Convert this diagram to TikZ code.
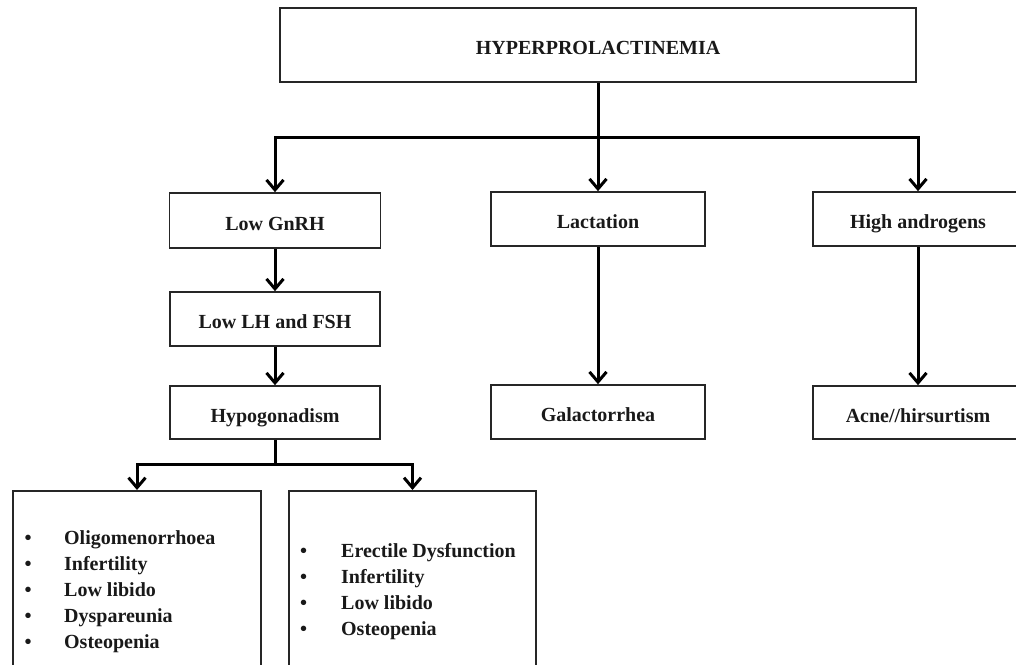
\documentclass[tikz,border=0pt]{standalone}
\usepackage{fontspec}
\setmainfont{Liberation Serif}
\usetikzlibrary{arrows.meta}
\tikzset{
  box/.style={draw=black!85, line width=1.6pt, rectangle, inner sep=0pt,
    font=\fontsize{20}{26}\selectfont\bfseries, text=black!90,
    text height=19pt, text depth=0pt, align=center},
  conn/.style={line width=3pt, black},
  arr/.style={conn, -{Straight Barb[length=10pt,width=17pt]}},
  listtext/.style={inner sep=0pt, anchor=base west, text=black!90,
    font=\fontsize{20}{26}\selectfont\bfseries}
}
\begin{document}
\begin{tikzpicture}[x=1pt,y=-1pt]
\useasboundingbox (0,0) rectangle (1016,664);
\clip (0,0) rectangle (1016,664);
% boxes
\node[box, minimum width=636pt, minimum height=74pt] (top) at (598,45) {HYPERPROLACTINEMIA};
\node[box, minimum width=211pt, minimum height=55pt] (gnrh) at (275,220.5) {Low GnRH};
\node[box, minimum width=210pt, minimum height=54pt] (lh) at (275,319) {Low LH and FSH};
\node[box, minimum width=210pt, minimum height=53pt] (hypo) at (275,412.5) {Hypogonadism};
\node[box, minimum width=214pt, minimum height=54pt] (lact) at (598,219) {Lactation};
\node[box, minimum width=214pt, minimum height=54pt] (gal) at (598,412) {Galactorrhea};
\node[box, minimum width=210pt, minimum height=54pt] (andro) at (918,219) {High androgens};
\node[box, minimum width=210pt, minimum height=53pt] (acne) at (918,412.5) {Acne//hirsurtism};
\node[box, minimum width=248.5pt, minimum height=200pt, anchor=north] (fbox) at (137,490) {};
\node[box, minimum width=247pt, minimum height=200pt, anchor=north] (mbox) at (412.5,490) {};
% list texts
\node[listtext] (flist) at (24.5,544) {\begin{tabular}[t]{@{}l@{}}
\makebox[39.5pt][l]{•}Oligomenorrhoea\\
\makebox[39.5pt][l]{•}Infertility\\
\makebox[39.5pt][l]{•}Low libido\\
\makebox[39.5pt][l]{•}Dyspareunia\\
\makebox[39.5pt][l]{•}Osteopenia
\end{tabular}};
\node[listtext] (mlist) at (300,557) {\begin{tabular}[t]{@{}l@{}}
\makebox[41pt][l]{•}Erectile Dysfunction\\
\makebox[41pt][l]{•}Infertility\\
\makebox[41pt][l]{•}Low libido\\
\makebox[41pt][l]{•}Osteopenia
\end{tabular}};
% connectors
\coordinate (hub) at (598,137);
\coordinate (hub2) at (275,464);
\draw[arr] (top.south) -- (lact.north);
\draw[arr] (hub) -| (gnrh.north);
\draw[arr] (hub) -| (andro.north);
\draw[arr] (gnrh.south) -- (lh.north);
\draw[arr] (lh.south) -- (hypo.north);
\draw[arr] (lact.south) -- (gal.north);
\draw[arr] (andro.south) -- (acne.north);
\draw[conn] (hypo.south) -- (hub2);
\draw[arr] (hub2) -| (fbox.north);
\draw[arr] (hub2) -| (mbox.north);
\end{tikzpicture}
\end{document}
